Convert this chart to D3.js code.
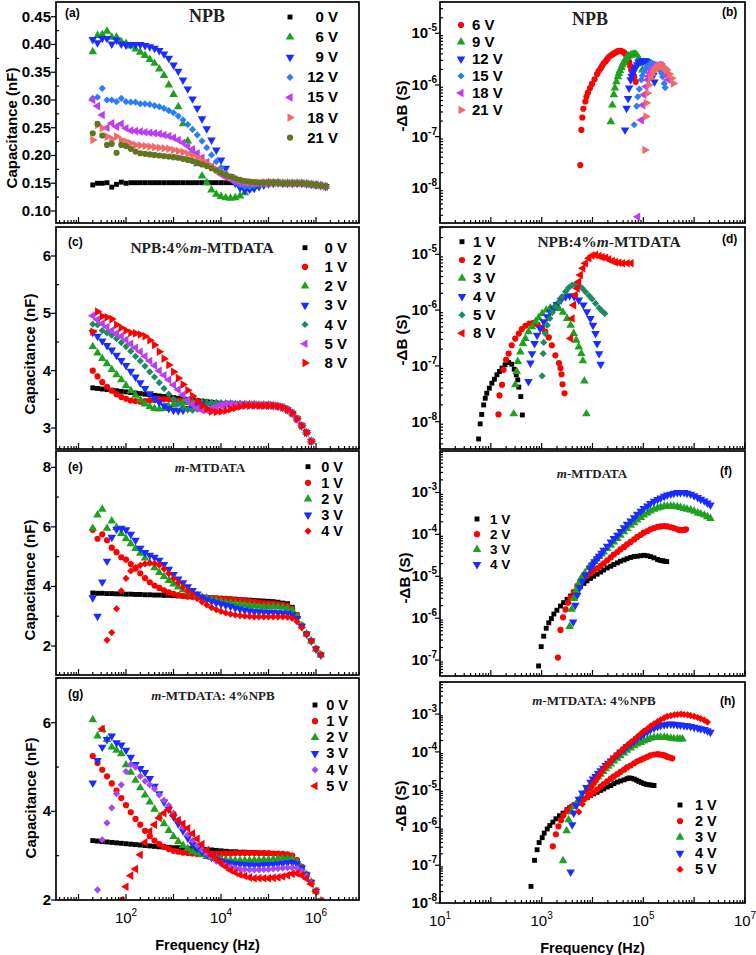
<!DOCTYPE html>
<html><head><meta charset="utf-8">
<script src="https://cdn.jsdelivr.net/npm/d3@7"></script>
<style>body{margin:0;background:#fff}</style>
</head><body>
<script>
// ---------------- DATA ----------------
// log10 of frequency (Hz) for the capacitance sweeps (left column)
const logFreqLeft = [1.3,1.4,1.5,1.6,1.7,1.8,1.9,2.0,2.1,2.2,2.3,2.4,2.5,2.6,2.7,2.8,2.9,3.0,3.1,3.2,3.3,3.4,3.5,3.6,3.7,3.8,3.9,4.0,4.1,4.2,4.3,4.4,4.5,4.6,4.7,4.8,4.9,5.0,5.1,5.2,5.3,5.4,5.5,5.6,5.7,5.8,5.9,6.0,6.1,6.2];

// (a) NPB capacitance (nF)
const a_labels = ['0 V','6 V','9 V','12 V','15 V','18 V','21 V'];
const a_0V = [0.147,0.150,0.150,0.151,0.143,0.148,0.152,0.150,0.151,0.151,0.151,0.151,0.151,0.151,0.151,0.151,0.151,0.151,0.151,0.151,0.151,0.151,0.151,0.151,0.151,0.151,0.151,0.151,0.151,0.151,0.151,0.151,0.151,0.151,0.151,0.151,0.151,0.151,0.151,0.150,0.150,0.150,0.150,0.150,0.150,0.149,0.148,0.147,0.146,0.144];
const a_6V = [0.387,0.416,0.418,0.424,0.413,0.413,0.405,0.402,0.397,0.392,0.386,0.380,0.373,0.366,0.356,0.344,0.327,0.310,0.288,0.257,0.226,0.208,0.185,0.163,0.151,0.138,0.130,0.126,0.124,0.123,0.124,0.127,0.133,0.140,0.145,0.148,0.150,0.151,0.151,0.151,0.150,0.150,0.150,0.150,0.150,0.149,0.148,0.147,0.146,0.144];
const a_9V = [0.409,0.403,0.411,0.411,0.401,0.408,0.401,0.399,0.400,0.400,0.400,0.398,0.396,0.393,0.389,0.383,0.375,0.363,0.352,0.336,0.320,0.302,0.285,0.266,0.248,0.228,0.210,0.192,0.177,0.162,0.150,0.142,0.138,0.139,0.141,0.144,0.147,0.149,0.150,0.151,0.150,0.150,0.150,0.150,0.150,0.149,0.148,0.147,0.146,0.144];
const a_12V = [0.303,0.305,0.321,0.300,0.300,0.297,0.303,0.297,0.296,0.296,0.293,0.293,0.292,0.290,0.288,0.285,0.281,0.277,0.271,0.264,0.256,0.247,0.237,0.226,0.214,0.201,0.189,0.178,0.168,0.159,0.152,0.147,0.144,0.144,0.146,0.148,0.149,0.150,0.151,0.151,0.150,0.150,0.150,0.150,0.150,0.149,0.148,0.147,0.146,0.144];
const a_15V = [0.300,0.289,0.273,0.250,0.258,0.252,0.257,0.249,0.245,0.244,0.243,0.242,0.241,0.240,0.239,0.237,0.235,0.232,0.228,0.223,0.217,0.211,0.204,0.196,0.188,0.180,0.173,0.166,0.161,0.157,0.154,0.152,0.151,0.150,0.150,0.150,0.150,0.151,0.151,0.151,0.150,0.150,0.150,0.150,0.150,0.149,0.148,0.147,0.146,0.144];
const a_18V = [0.228,0.255,0.249,0.234,0.230,0.234,0.228,0.225,0.222,0.219,0.218,0.217,0.216,0.215,0.214,0.213,0.212,0.210,0.208,0.206,0.203,0.200,0.196,0.191,0.186,0.180,0.175,0.170,0.165,0.161,0.158,0.155,0.153,0.152,0.151,0.151,0.151,0.151,0.151,0.151,0.150,0.150,0.150,0.150,0.150,0.149,0.148,0.147,0.146,0.144];
const a_21V = [0.240,0.257,0.236,0.219,0.221,0.205,0.219,0.217,0.212,0.207,0.204,0.203,0.202,0.201,0.200,0.199,0.198,0.197,0.196,0.194,0.192,0.190,0.187,0.184,0.181,0.177,0.173,0.169,0.165,0.162,0.159,0.156,0.154,0.153,0.152,0.151,0.151,0.151,0.151,0.151,0.150,0.150,0.150,0.150,0.150,0.149,0.148,0.147,0.146,0.144];

// (c) NPB:4% m-MTDATA capacitance (nF)
const c_labels = ['0 V','1 V','2 V','3 V','4 V','5 V','8 V'];
const c_0V = [3.70,3.69,3.68,3.67,3.66,3.65,3.64,3.63,3.62,3.61,3.60,3.59,3.58,3.57,3.56,3.55,3.54,3.53,3.52,3.51,3.50,3.49,3.48,3.47,3.46,3.45,3.44,3.43,3.43,3.42,3.42,3.42,3.41,3.41,3.41,3.41,3.41,3.40,3.39,3.38,3.36,3.32,3.26,3.16,3.04,2.92,2.77,2.58,2.40,2.20];
const c_1V = [4.00,3.90,3.80,3.72,3.65,3.59,3.54,3.51,3.48,3.47,3.46,3.47,3.48,3.49,3.50,3.50,3.50,3.49,3.48,3.47,3.46,3.45,3.44,3.43,3.43,3.42,3.42,3.42,3.42,3.41,3.41,3.41,3.41,3.41,3.41,3.40,3.40,3.40,3.39,3.38,3.36,3.32,3.26,3.16,3.04,2.92,2.77,2.58,2.40,2.20];
const c_2V = [4.42,4.31,4.21,4.12,4.02,3.93,3.84,3.74,3.65,3.57,3.49,3.42,3.37,3.34,3.33,3.34,3.37,3.40,3.43,3.45,3.45,3.45,3.45,3.44,3.44,3.43,3.43,3.42,3.42,3.42,3.41,3.41,3.41,3.41,3.41,3.40,3.40,3.40,3.39,3.38,3.36,3.32,3.26,3.16,3.04,2.92,2.77,2.58,2.40,2.20];
const c_3V = [4.67,4.60,4.52,4.44,4.36,4.27,4.18,4.09,3.99,3.89,3.79,3.69,3.60,3.52,3.45,3.39,3.34,3.31,3.30,3.31,3.34,3.37,3.40,3.41,3.42,3.42,3.42,3.42,3.42,3.42,3.41,3.41,3.41,3.41,3.41,3.40,3.40,3.40,3.39,3.38,3.36,3.32,3.26,3.16,3.04,2.92,2.77,2.58,2.40,2.20];
const c_4V = [4.81,4.80,4.70,4.66,4.62,4.56,4.49,4.42,4.34,4.25,4.17,4.08,3.98,3.89,3.79,3.69,3.59,3.50,3.42,3.36,3.32,3.31,3.33,3.37,3.41,3.44,3.44,3.44,3.43,3.43,3.42,3.42,3.41,3.41,3.41,3.40,3.40,3.40,3.39,3.38,3.36,3.32,3.26,3.16,3.04,2.92,2.77,2.58,2.40,2.20];
const c_5V = [4.96,4.89,4.82,4.76,4.70,4.65,4.60,4.54,4.47,4.40,4.33,4.25,4.17,4.09,4.00,3.92,3.84,3.75,3.67,3.58,3.49,3.41,3.35,3.31,3.31,3.34,3.37,3.40,3.42,3.42,3.41,3.41,3.41,3.41,3.41,3.40,3.40,3.40,3.39,3.38,3.36,3.32,3.26,3.16,3.04,2.92,2.77,2.58,2.40,2.20];
const c_8V = [4.68,5.03,4.95,4.93,4.90,4.80,4.75,4.70,4.66,4.65,4.63,4.60,4.53,4.45,4.33,4.21,4.10,3.98,3.87,3.76,3.66,3.56,3.47,3.39,3.33,3.29,3.28,3.29,3.30,3.33,3.35,3.37,3.39,3.39,3.39,3.39,3.39,3.39,3.39,3.38,3.36,3.32,3.26,3.16,3.04,2.92,2.77,2.58,2.40,2.20];

// (e) m-MTDATA capacitance (nF)
const e_labels = ['0 V','1 V','2 V','3 V','4 V'];
const e_0V = [3.78,3.77,3.77,3.76,3.76,3.75,3.75,3.74,3.74,3.73,3.73,3.72,3.72,3.71,3.71,3.70,3.70,3.69,3.68,3.68,3.67,3.66,3.65,3.64,3.63,3.62,3.61,3.60,3.59,3.58,3.57,3.56,3.55,3.54,3.53,3.52,3.51,3.50,3.49,3.47,3.44,3.42,3.30,3.05,2.70,2.42,2.18,1.92,1.72,null];
const e_1V = [5.90,5.60,5.75,5.55,5.30,5.15,4.98,4.90,4.75,4.60,4.44,4.28,4.14,4.03,3.95,3.87,3.80,3.75,3.71,3.68,3.66,3.65,3.64,3.63,3.62,3.61,3.60,3.59,3.58,3.57,3.56,3.54,3.52,3.50,3.48,3.46,3.44,3.43,3.42,3.40,3.38,3.35,3.25,3.02,2.68,2.40,2.17,1.90,1.70,null];
const e_2V = [5.95,6.40,6.59,5.95,6.20,5.98,5.78,5.60,5.43,5.27,5.11,4.95,4.79,4.63,4.47,4.33,4.20,4.08,3.98,3.89,3.81,3.74,3.69,3.64,3.60,3.56,3.52,3.49,3.46,3.44,3.42,3.40,3.38,3.36,3.34,3.33,3.32,3.32,3.32,3.31,3.30,3.27,3.20,3.00,2.68,2.40,2.17,1.90,1.70,null];
const e_3V = [3.62,3.00,4.15,4.85,5.65,5.92,5.95,5.90,5.75,5.55,5.28,5.14,5.05,4.98,4.88,4.74,4.58,4.40,4.25,4.12,3.99,3.86,3.75,3.64,3.56,3.50,3.45,3.41,3.37,3.33,3.28,3.24,3.21,3.18,3.16,3.15,3.14,3.13,3.13,3.12,3.11,3.10,3.05,2.92,2.66,2.40,2.17,1.90,1.70,null];
const e_4V = [null,null,null,2.20,2.45,3.25,3.85,4.27,4.52,4.63,4.71,4.76,4.78,4.77,4.72,4.59,4.43,4.27,4.12,3.98,3.85,3.72,3.59,3.48,3.38,3.29,3.22,3.16,3.11,3.07,3.04,3.02,3.00,2.99,2.98,2.98,2.98,2.98,2.98,2.98,2.98,2.97,2.93,2.82,2.62,2.40,2.17,1.90,1.70,null];

// (g) m-MTDATA:4% NPB capacitance (nF)
const g_labels = ['0 V','1 V','2 V','3 V','4 V','5 V'];
const g_0V = [3.34,3.33,3.32,3.31,3.30,3.29,3.28,3.27,3.26,3.25,3.24,3.23,3.22,3.21,3.20,3.19,3.19,3.18,3.18,3.17,3.16,3.16,3.15,3.15,3.14,3.13,3.12,3.11,3.10,3.09,3.09,3.08,3.08,3.07,3.07,3.06,3.06,3.05,3.05,3.04,3.03,3.01,2.97,2.88,2.74,2.58,2.40,2.20,1.98,null];
const g_1V = [5.25,5.09,4.94,4.79,4.63,4.47,4.30,4.14,3.98,3.83,3.70,3.56,3.44,3.34,3.26,3.20,3.15,3.11,3.09,3.07,3.06,3.05,3.04,3.04,3.04,3.04,3.04,3.04,3.05,3.05,3.06,3.06,3.06,3.06,3.06,3.06,3.06,3.06,3.05,3.05,3.04,3.03,3.00,2.90,2.75,2.58,2.40,2.20,1.98,null];
const g_2V = [6.07,5.70,5.85,5.62,5.45,5.38,5.30,5.05,4.88,4.70,4.53,4.37,4.21,4.05,3.88,3.72,3.57,3.43,3.32,3.23,3.16,3.10,3.06,3.02,2.98,2.96,2.94,2.92,2.91,2.90,2.89,2.89,2.89,2.89,2.90,2.90,2.91,2.91,2.92,2.93,2.94,2.94,2.93,2.86,2.73,2.57,2.40,2.20,1.98,null];
const g_3V = [4.64,5.15,5.45,5.62,5.70,5.55,5.50,5.38,5.22,5.06,4.97,4.88,4.74,4.57,4.40,4.21,4.05,3.88,3.72,3.56,3.40,3.26,3.16,3.09,3.02,2.96,2.91,2.88,2.85,2.83,2.82,2.81,2.80,2.79,2.79,2.79,2.80,2.80,2.81,2.82,2.83,2.84,2.85,2.82,2.72,2.57,2.40,2.20,1.98,null];
const g_4V = [null,2.23,3.36,3.74,4.08,4.40,4.60,4.90,5.06,5.00,4.79,4.68,4.60,4.51,4.37,4.25,4.13,3.96,3.80,3.64,3.47,3.34,3.23,3.13,3.04,2.96,2.88,2.82,2.78,2.74,2.72,2.70,2.69,2.68,2.68,2.68,2.69,2.69,2.70,2.71,2.72,2.73,2.73,2.72,2.65,2.54,2.38,2.20,1.98,null];
const g_5V = [null,null,5.86,null,null,null,2.00,2.30,2.55,2.70,3.02,3.30,3.55,3.70,3.85,3.96,4.04,3.90,3.80,3.72,3.62,3.50,3.38,3.26,3.13,3.01,2.92,2.84,2.75,2.67,2.62,2.57,2.54,2.51,2.49,2.49,2.49,2.49,2.50,2.51,2.53,2.56,2.59,2.60,2.56,2.48,2.36,2.20,1.98,null];

// Right column: pairs of [log10 f (Hz), log10 -ΔB (S)]
const b_labels = ['6 V','9 V','12 V','15 V','18 V','21 V'];
const b_6V = [[3.76,-7.55],[3.78,-6.87],[3.80,-6.63],[3.82,-6.46],[3.86,-6.32],[3.88,-6.23],[3.91,-6.15],[3.95,-6.06],[3.99,-5.98],[4.04,-5.89],[4.09,-5.79],[4.12,-5.73],[4.16,-5.68],[4.19,-5.63],[4.22,-5.58],[4.26,-5.54],[4.29,-5.50],[4.32,-5.46],[4.36,-5.43],[4.39,-5.41],[4.42,-5.39],[4.46,-5.37],[4.49,-5.35],[4.52,-5.34],[4.55,-5.34],[4.58,-5.35],[4.62,-5.37],[4.65,-5.40],[4.67,-5.44],[4.70,-5.49],[4.72,-5.55],[4.74,-5.63],[4.76,-5.71],[4.79,-5.78],[4.82,-5.84],[4.85,-5.94]];
const b_9V = [[4.36,-6.71],[4.39,-6.39],[4.42,-6.19],[4.44,-6.06],[4.47,-5.94],[4.50,-5.84],[4.52,-5.78],[4.54,-5.72],[4.57,-5.66],[4.59,-5.61],[4.61,-5.57],[4.63,-5.53],[4.66,-5.49],[4.68,-5.46],[4.71,-5.44],[4.75,-5.42],[4.78,-5.41],[4.82,-5.40],[4.85,-5.41],[4.87,-5.42],[4.91,-5.48],[4.93,-5.53],[4.95,-5.58],[4.98,-5.71]];
const b_12V = [[4.64,-6.87],[4.67,-6.45],[4.70,-6.26],[4.72,-6.06],[4.75,-5.90],[4.77,-5.83],[4.80,-5.76],[4.82,-5.70],[4.85,-5.65],[4.88,-5.61],[4.91,-5.57],[4.94,-5.55],[4.98,-5.53],[5.01,-5.53],[5.05,-5.53],[5.08,-5.55],[5.11,-5.58],[5.14,-5.63],[5.16,-5.68],[5.18,-5.74],[5.20,-5.81],[5.22,-5.94]];
const b_15V = [[4.82,-6.77],[4.87,-6.41],[4.89,-6.23],[4.92,-6.08],[4.96,-5.90],[4.98,-5.82],[5.01,-5.74],[5.04,-5.69],[5.07,-5.65],[5.10,-5.62],[5.13,-5.59],[5.17,-5.58],[5.21,-5.59],[5.25,-5.61],[5.28,-5.63],[5.31,-5.67],[5.33,-5.71],[5.36,-5.77],[5.38,-5.84],[5.41,-5.97],[5.43,-6.05]];
const b_18V = [[4.89,-8.55],[4.96,-6.68],[4.99,-6.39],[5.01,-6.19],[5.05,-6.03],[5.08,-5.90],[5.10,-5.83],[5.13,-5.77],[5.16,-5.72],[5.18,-5.68],[5.21,-5.65],[5.24,-5.63],[5.28,-5.62],[5.31,-5.61],[5.35,-5.62],[5.38,-5.65],[5.42,-5.71],[5.46,-5.81],[5.49,-5.90]];
const b_21V = [[5.03,-7.26],[5.05,-6.61],[5.06,-6.35],[5.08,-6.16],[5.11,-6.00],[5.14,-5.87],[5.17,-5.80],[5.20,-5.74],[5.23,-5.70],[5.26,-5.66],[5.30,-5.64],[5.33,-5.63],[5.36,-5.63],[5.39,-5.65],[5.43,-5.68],[5.46,-5.71],[5.51,-5.79],[5.56,-5.87],[5.59,-5.97]];

const d_labels = ['1 V','2 V','3 V','4 V','5 V','8 V'];
const d_1V = [[1.76,-8.31],[1.79,-8.04],[1.82,-7.87],[1.86,-7.70],[1.89,-7.58],[1.92,-7.49],[1.97,-7.40],[2.02,-7.31],[2.07,-7.24],[2.12,-7.16],[2.17,-7.10],[2.22,-7.04],[2.28,-6.98],[2.35,-6.94],[2.41,-6.97],[2.46,-7.06],[2.50,-7.16],[2.53,-7.25],[2.55,-7.38],[2.59,-7.55],[2.62,-7.88]];
const d_2V = [[2.15,-7.87],[2.17,-7.53],[2.22,-7.34],[2.25,-7.07],[2.30,-6.89],[2.35,-6.78],[2.41,-6.63],[2.48,-6.51],[2.55,-6.42],[2.61,-6.34],[2.68,-6.28],[2.76,-6.24],[2.84,-6.23],[2.92,-6.26],[3.01,-6.32],[3.07,-6.39],[3.14,-6.49],[3.20,-6.63],[3.27,-6.81],[3.34,-6.95],[3.37,-7.04],[3.39,-7.15],[3.41,-7.33],[3.45,-7.49]];
const d_3V = [[2.45,-7.86],[2.48,-7.34],[2.51,-7.10],[2.53,-6.92],[2.58,-6.75],[2.63,-6.60],[2.68,-6.51],[2.74,-6.39],[2.81,-6.30],[2.88,-6.21],[2.94,-6.14],[3.01,-6.06],[3.09,-6.00],[3.17,-5.96],[3.25,-5.94],[3.34,-5.97],[3.42,-6.04],[3.50,-6.15],[3.57,-6.27],[3.63,-6.42],[3.68,-6.54],[3.73,-6.66],[3.78,-6.78],[3.81,-6.91],[3.84,-7.27],[3.88,-7.86]];
const d_4V = [[2.74,-7.28],[2.78,-6.95],[2.81,-6.78],[2.86,-6.60],[2.91,-6.45],[2.97,-6.33],[3.04,-6.21],[3.11,-6.12],[3.17,-6.04],[3.24,-5.97],[3.30,-5.90],[3.38,-5.82],[3.47,-5.76],[3.55,-5.74],[3.64,-5.76],[3.73,-5.82],[3.82,-5.91],[3.89,-6.03],[3.96,-6.15],[4.01,-6.27],[4.06,-6.42],[4.09,-6.60],[4.13,-6.78],[4.16,-6.97]];
const d_5V = [[3.01,-7.18],[3.03,-6.78],[3.04,-6.58],[3.07,-6.42],[3.11,-6.27],[3.16,-6.15],[3.21,-6.04],[3.27,-5.94],[3.34,-5.85],[3.40,-5.76],[3.47,-5.67],[3.53,-5.60],[3.60,-5.55],[3.66,-5.54],[3.73,-5.56],[3.80,-5.61],[3.86,-5.67],[3.93,-5.74],[3.99,-5.80],[4.06,-5.88],[4.13,-5.96],[4.19,-6.02],[4.24,-6.06]];
const d_8V = [[3.57,-6.51],[3.60,-6.15],[3.63,-5.91],[3.66,-5.73],[3.70,-5.61],[3.73,-5.49],[3.76,-5.37],[3.81,-5.25],[3.86,-5.16],[3.93,-5.07],[3.99,-5.02],[4.06,-5.01],[4.13,-5.03],[4.19,-5.05],[4.26,-5.06],[4.32,-5.09],[4.39,-5.12],[4.45,-5.14],[4.52,-5.15],[4.59,-5.16],[4.68,-5.16],[4.76,-5.16]];

const f_labels = ['1 V','2 V','3 V','4 V'];
const f_1V = [[2.94,-7.14],[2.99,-6.68],[3.04,-6.43],[3.09,-6.24],[3.14,-6.11],[3.19,-6.01],[3.24,-5.90],[3.30,-5.81],[3.37,-5.71],[3.43,-5.63],[3.50,-5.55],[3.57,-5.47],[3.63,-5.41],[3.70,-5.33],[3.76,-5.25],[3.83,-5.17],[3.89,-5.11],[3.96,-5.05],[4.02,-5.00],[4.09,-4.95],[4.16,-4.90],[4.22,-4.85],[4.29,-4.80],[4.36,-4.76],[4.42,-4.72],[4.49,-4.68],[4.55,-4.64],[4.62,-4.61],[4.68,-4.58],[4.75,-4.55],[4.82,-4.53],[4.88,-4.52],[4.95,-4.51],[5.01,-4.50],[5.08,-4.51],[5.14,-4.53],[5.21,-4.56],[5.28,-4.60],[5.33,-4.62],[5.38,-4.63],[5.42,-4.64],[5.46,-4.65]];
const f_2V = [[3.32,-6.94],[3.37,-6.28],[3.42,-5.98],[3.47,-5.79],[3.52,-5.63],[3.57,-5.51],[3.63,-5.37],[3.70,-5.23],[3.76,-5.13],[3.83,-5.05],[3.89,-4.99],[3.96,-4.93],[4.02,-4.87],[4.09,-4.81],[4.16,-4.75],[4.22,-4.69],[4.29,-4.62],[4.36,-4.55],[4.42,-4.48],[4.49,-4.42],[4.55,-4.36],[4.62,-4.30],[4.68,-4.24],[4.75,-4.18],[4.82,-4.12],[4.88,-4.06],[4.95,-4.01],[5.01,-3.96],[5.08,-3.92],[5.14,-3.88],[5.21,-3.85],[5.28,-3.82],[5.34,-3.81],[5.41,-3.80],[5.47,-3.81],[5.54,-3.83],[5.60,-3.85],[5.67,-3.88],[5.72,-3.90],[5.77,-3.90],[5.81,-3.89],[5.84,-3.88]];
const f_3V = [[3.55,-6.20],[3.59,-5.79],[3.63,-5.53],[3.68,-5.33],[3.73,-5.17],[3.78,-5.04],[3.85,-4.92],[3.93,-4.79],[3.98,-4.72],[4.03,-4.65],[4.08,-4.59],[4.13,-4.53],[4.18,-4.47],[4.22,-4.42],[4.29,-4.34],[4.36,-4.26],[4.42,-4.18],[4.49,-4.10],[4.55,-4.02],[4.62,-3.94],[4.68,-3.86],[4.75,-3.78],[4.82,-3.72],[4.88,-3.66],[4.95,-3.60],[5.01,-3.54],[5.08,-3.49],[5.14,-3.44],[5.21,-3.40],[5.28,-3.37],[5.34,-3.35],[5.41,-3.33],[5.47,-3.33],[5.54,-3.33],[5.60,-3.33],[5.67,-3.34],[5.73,-3.36],[5.80,-3.38],[5.86,-3.40],[5.93,-3.42],[6.00,-3.45],[6.07,-3.49],[6.13,-3.51],[6.20,-3.54],[6.26,-3.58],[6.32,-3.62]];
const f_4V = [[3.62,-6.09],[3.66,-5.69],[3.70,-5.45],[3.75,-5.27],[3.80,-5.12],[3.86,-4.97],[3.95,-4.81],[4.00,-4.73],[4.04,-4.65],[4.09,-4.58],[4.13,-4.52],[4.18,-4.45],[4.22,-4.38],[4.29,-4.28],[4.36,-4.18],[4.42,-4.10],[4.49,-4.02],[4.55,-3.93],[4.62,-3.84],[4.68,-3.76],[4.75,-3.68],[4.82,-3.60],[4.88,-3.52],[4.95,-3.45],[5.01,-3.38],[5.08,-3.32],[5.14,-3.26],[5.21,-3.21],[5.28,-3.17],[5.34,-3.13],[5.41,-3.09],[5.47,-3.06],[5.54,-3.04],[5.60,-3.02],[5.67,-3.00],[5.73,-3.00],[5.80,-3.00],[5.86,-3.02],[5.93,-3.04],[6.00,-3.08],[6.07,-3.12],[6.13,-3.16],[6.20,-3.20],[6.26,-3.25],[6.32,-3.30]];

const h_labels = ['1 V','2 V','3 V','4 V','5 V'];
const h_1V = [[2.79,-7.56],[2.86,-6.87],[2.91,-6.59],[2.95,-6.40],[3.01,-6.27],[3.05,-6.15],[3.11,-6.04],[3.16,-5.95],[3.22,-5.86],[3.28,-5.77],[3.35,-5.69],[3.42,-5.62],[3.50,-5.53],[3.55,-5.48],[3.60,-5.44],[3.65,-5.40],[3.70,-5.36],[3.77,-5.30],[3.83,-5.25],[3.90,-5.20],[3.96,-5.15],[4.02,-5.11],[4.09,-5.07],[4.16,-5.02],[4.22,-4.98],[4.29,-4.93],[4.36,-4.89],[4.42,-4.84],[4.49,-4.80],[4.55,-4.77],[4.62,-4.74],[4.68,-4.71],[4.72,-4.69],[4.77,-4.70],[4.82,-4.72],[4.87,-4.75],[4.91,-4.78],[4.96,-4.81],[5.01,-4.84],[5.06,-4.86],[5.11,-4.87],[5.16,-4.88],[5.21,-4.89]];
const h_2V = [[3.22,-6.50],[3.28,-6.18],[3.33,-5.97],[3.38,-5.81],[3.43,-5.68],[3.50,-5.56],[3.57,-5.47],[3.64,-5.40],[3.73,-5.33],[3.83,-5.25],[3.90,-5.20],[3.96,-5.14],[4.02,-5.07],[4.09,-5.00],[4.16,-4.92],[4.22,-4.85],[4.29,-4.78],[4.36,-4.71],[4.42,-4.65],[4.49,-4.59],[4.55,-4.53],[4.62,-4.47],[4.68,-4.41],[4.75,-4.36],[4.82,-4.30],[4.88,-4.25],[4.95,-4.21],[5.01,-4.17],[5.08,-4.13],[5.14,-4.09],[5.21,-4.07],[5.28,-4.06],[5.33,-4.07],[5.38,-4.08],[5.43,-4.10],[5.47,-4.13],[5.52,-4.15],[5.57,-4.17]];
const h_3V = [[3.42,-6.88],[3.49,-6.09],[3.53,-5.80],[3.59,-5.59],[3.64,-5.44],[3.71,-5.31],[3.78,-5.18],[3.86,-5.05],[3.91,-4.97],[3.96,-4.89],[4.01,-4.81],[4.06,-4.74],[4.11,-4.66],[4.16,-4.59],[4.21,-4.52],[4.26,-4.45],[4.31,-4.38],[4.36,-4.32],[4.42,-4.24],[4.49,-4.17],[4.55,-4.10],[4.62,-4.03],[4.68,-3.96],[4.75,-3.90],[4.82,-3.84],[4.88,-3.79],[4.95,-3.75],[5.01,-3.71],[5.08,-3.67],[5.14,-3.64],[5.21,-3.62],[5.28,-3.61],[5.34,-3.61],[5.41,-3.61],[5.47,-3.62],[5.54,-3.64],[5.60,-3.65],[5.67,-3.65],[5.72,-3.66],[5.77,-3.66]];
const h_4V = [[3.57,-7.18],[3.60,-5.93],[3.63,-5.62],[3.68,-5.42],[3.73,-5.25],[3.80,-5.09],[3.88,-4.94],[3.96,-4.80],[4.01,-4.72],[4.06,-4.65],[4.11,-4.57],[4.16,-4.50],[4.21,-4.43],[4.26,-4.36],[4.31,-4.30],[4.36,-4.24],[4.42,-4.16],[4.49,-4.08],[4.55,-4.00],[4.62,-3.93],[4.68,-3.86],[4.75,-3.79],[4.82,-3.72],[4.88,-3.65],[4.95,-3.59],[5.01,-3.53],[5.08,-3.47],[5.14,-3.41],[5.21,-3.37],[5.28,-3.33],[5.34,-3.30],[5.41,-3.28],[5.47,-3.27],[5.54,-3.26],[5.60,-3.27],[5.67,-3.28],[5.73,-3.29],[5.80,-3.30],[5.86,-3.31],[5.93,-3.33],[6.00,-3.35],[6.07,-3.37],[6.13,-3.39],[6.20,-3.41],[6.26,-3.44],[6.32,-3.48]];
const h_5V = [[3.73,-5.59],[3.80,-5.38],[3.85,-5.24],[3.91,-5.09],[3.96,-4.96],[4.00,-4.88],[4.04,-4.80],[4.09,-4.71],[4.13,-4.62],[4.18,-4.53],[4.22,-4.45],[4.27,-4.37],[4.32,-4.30],[4.37,-4.22],[4.42,-4.15],[4.48,-4.07],[4.55,-3.99],[4.61,-3.91],[4.68,-3.83],[4.75,-3.75],[4.82,-3.68],[4.88,-3.60],[4.95,-3.52],[5.01,-3.45],[5.08,-3.39],[5.14,-3.32],[5.21,-3.26],[5.28,-3.20],[5.34,-3.15],[5.41,-3.10],[5.47,-3.06],[5.54,-3.04],[5.61,-3.02],[5.67,-3.01],[5.74,-3.00],[5.80,-3.01],[5.87,-3.02],[5.93,-3.04],[6.00,-3.06],[6.07,-3.09],[6.13,-3.12],[6.20,-3.16],[6.26,-3.21]];

// tick values
const a_yTicks = [0.10,0.15,0.20,0.25,0.30,0.35,0.40,0.45];
const c_yTicks = [3,4,5,6];
const e_yTicks = [2,4,6,8];
const g_yTicks = [2,4,6];
const leftXLabels = [2,4,6];
const rightXLabels = [1,3,5,7];

// ---------------- STYLE / LAYOUT ----------------
const SANS = '"Liberation Sans", Arial, Helvetica, sans-serif';
const SERIF = '"Liberation Serif", "Times New Roman", serif';
const COL = {k:'#000000', r:'#ff0000', g:'#1ea11e', b:'#1a2cff', lb:'#2a7ff0', p:'#c03cf2', s:'#f06a6a', o:'#627520', t:'#1f8a60', pd:'#a448f4'};
const SH = {
  sq:{t:d3.symbolSquare, s:24, r:0}, ci:{t:d3.symbolCircle, s:30, r:0},
  up:{t:d3.symbolTriangle, s:32, r:0}, dn:{t:d3.symbolTriangle, s:32, r:180},
  lt:{t:d3.symbolTriangle, s:32, r:-90}, rt:{t:d3.symbolTriangle, s:32, r:90},
  di:{t:d3.symbolSquare, s:26, r:45}
};

const svg = d3.select('body').append('svg').attr('width',756).attr('height',955);

function drawPanel(p){
  const g = svg.append('g');
  const [x0,x1] = p.col==='L' ? [56,359] : [440,745];
  const y0 = p.y0, y1 = p.y1;
  const x = p.col==='L' ? d3.scaleLog().domain([10**0.526,10**6.905]).range([x0,x1])
                        : d3.scaleLog().domain([10,1e7]).range([x0,x1]);
  const y = p.log ? d3.scaleLog().domain([10**p.yDom[0],10**p.yDom[1]]).range([y1,y0])
                  : d3.scaleLinear().domain(p.yDom).range([y1,y0]);
  const cid = 'clip_'+p.key;
  svg.append('clipPath').attr('id',cid).append('rect').attr('x',x0).attr('y',y0).attr('width',x1-x0).attr('height',y1-y0);
  const plot = g.append('g').attr('clip-path',`url(#${cid})`);

  p.series.forEach(s=>{
    const sh = SH[s.sh];
    const d = d3.symbol(sh.t, sh.s)();
    let pts;
    if (s.pairs) pts = s.pairs.map(q=>[10**q[0], 10**q[1]]);
    else pts = logFreqLeft.map((lf,i)=>[10**lf, s.values[i]]).filter(q=>q[1]!=null);
    plot.selectAll(null).data(pts).enter().append('path')
      .attr('d',d).attr('fill',s.c)
      .attr('transform',q=>`translate(${x(q[0])},${y(q[1])}) rotate(${sh.r})`);
  });

  // frame
  g.append('rect').attr('x',x0).attr('y',y0).attr('width',x1-x0).attr('height',y1-y0)
    .attr('fill','none').attr('stroke','#000').attr('stroke-width',1.7);

  const tk = g.append('g').attr('stroke','#000').attr('stroke-width',1.2);
  // x ticks (log)
  const [xd0,xd1] = x.domain();
  for (let e=0;e<=7;e++){
    for (let k=1;k<=9;k++){
      const v = k*10**e;
      if (v<xd0 || v>xd1) continue;
      const len = k===1?6:3;
      tk.append('line').attr('x1',x(v)).attr('x2',x(v)).attr('y1',y1).attr('y2',y1-len);
    }
  }
  // y ticks
  if (p.log){
    for (let e=-9;e<=-1;e++){
      for (let k=1;k<=9;k++){
        const v = k*10**e;
        const [a,b] = y.domain();
        if (v<a || v>b) continue;
        if (k===1) tk.append('line').attr('x1',x0-5).attr('x2',x0).attr('y1',y(v)).attr('y2',y(v));
        else tk.append('line').attr('x1',x0).attr('x2',x0+3).attr('y1',y(v)).attr('y2',y(v));
      }
    }
    p.yLabels.forEach(e=>{
      const t = g.append('text').attr('x',x0-3).attr('y',y(10**e)+5).attr('text-anchor','end')
        .attr('font-family',SANS).attr('font-weight','bold').attr('font-size',15);
      t.append('tspan').text('10');
      t.append('tspan').attr('dy',-7).attr('font-size',10).text(String(e));
    });
  } else {
    p.yTicks.forEach(v=>{
      tk.append('line').attr('x1',x0-5).attr('x2',x0).attr('y1',y(v)).attr('y2',y(v));
      g.append('text').attr('x',x0-5).attr('y',y(v)+5).attr('text-anchor','end')
        .attr('font-family',SANS).attr('font-weight','bold').attr('font-size',15).text(p.fmt(v));
    });
    p.yMinor.forEach(v=>{
      tk.append('line').attr('x1',x0).attr('x2',x0+3).attr('y1',y(v)).attr('y2',y(v));
    });
  }
  // x labels
  if (p.xLabels){
    p.xLabels.forEach(e=>{
      const t = g.append('text').attr('x',x(10**e)).attr('y',y1+23).attr('text-anchor','middle')
        .attr('font-family',SANS).attr('font-size',15);
      t.append('tspan').text('10');
      t.append('tspan').attr('dy',-7).attr('font-size',10).text(String(e));
    });
    g.append('text').attr('x',(x0+x1)/2).attr('y',y1+50).attr('text-anchor','middle')
      .attr('font-family',SANS).attr('font-weight','bold').attr('font-size',14.5).text('Frequency (Hz)');
  }
  // y label
  g.append('text').attr('transform',`translate(${p.ylab[0]},${p.ylab[1]}) rotate(-90)`)
    .attr('text-anchor','middle').attr('dominant-baseline','central')
    .attr('font-family',SANS).attr('font-weight','bold').attr('font-size',15)
    .text(p.log ? '-ΔB (S)' : 'Capacitance (nF)');
  // title
  const tt = g.append('text').attr('x',p.title.x).attr('y',p.title.y).attr('text-anchor','middle')
    .attr('font-family',SERIF).attr('font-weight','bold').attr('font-size',p.title.size).attr('fill','#222');
  p.title.parts.forEach(q=>tt.append('tspan').attr('font-style',q.i?'italic':'normal').text(q.t));
  // panel letter
  g.append('text').attr('x',p.letter[1]).attr('y',p.letter[2]).attr('font-family',SANS)
    .attr('font-weight','bold').attr('font-size',12).text(p.letter[0]);
  // legend
  const L = p.legend;
  const fs = L.fs || 15;
  p.series.forEach((s,i)=>{
    const sh = SH[s.sh];
    const yy = L.y + i*L.dy;
    g.append('path').attr('d',d3.symbol(sh.t, sh.s)()).attr('fill',s.c)
      .attr('transform',`translate(${L.sx},${yy}) rotate(${sh.r})`);
    g.append('text').attr('x',L.tx).attr('y',yy+fs/3).attr('text-anchor',L.anchor)
      .attr('font-family',SANS).attr('font-weight','bold').attr('font-size',fs).text(p.labels[i]);
  });
}

const panels = [
 {key:'a', col:'L', y0:2, y1:223, yDom:[0.0784,0.4765], yTicks:a_yTicks, yMinor:[0.125,0.175,0.225,0.275,0.325,0.375,0.425], fmt:v=>v.toFixed(2),
  labels:a_labels,
  series:[{values:a_0V,sh:'sq',c:COL.k},{values:a_6V,sh:'up',c:COL.g},{values:a_9V,sh:'dn',c:COL.b},{values:a_12V,sh:'di',c:COL.lb},{values:a_15V,sh:'lt',c:COL.p},{values:a_18V,sh:'rt',c:COL.s},{values:a_21V,sh:'ci',c:COL.o}],
  legend:{sx:290, tx:338, anchor:'end', y:17, dy:20.1},
  title:{parts:[{t:'NPB'}], x:207, y:22, size:18}, letter:['(a)',65,17], ylab:[11,128]},
 {key:'b', col:'R', y0:2, y1:223, log:true, yDom:[-8.672,-4.394], yLabels:[-5,-6,-7,-8], labels:b_labels,
  series:[{pairs:b_6V,sh:'ci',c:COL.r},{pairs:b_9V,sh:'up',c:COL.g},{pairs:b_12V,sh:'dn',c:COL.b},{pairs:b_15V,sh:'di',c:COL.lb},{pairs:b_18V,sh:'lt',c:COL.p},{pairs:b_21V,sh:'rt',c:COL.s}],
  legend:{sx:461, tx:472, anchor:'start', y:25, dy:17},
  title:{parts:[{t:'NPB'}], x:590, y:25, size:18}, letter:['(b)',722,16], ylab:[401,106]},
 {key:'c', col:'L', y0:227, y1:449, yDom:[2.634,6.506], yTicks:c_yTicks, yMinor:[3.5,4.5,5.5], fmt:v=>String(v), labels:c_labels,
  series:[{values:c_0V,sh:'sq',c:COL.k},{values:c_1V,sh:'ci',c:COL.r},{values:c_2V,sh:'up',c:COL.g},{values:c_3V,sh:'dn',c:COL.b},{values:c_4V,sh:'di',c:COL.t},{values:c_5V,sh:'lt',c:COL.p},{values:c_8V,sh:'rt',c:COL.r}],
  legend:{sx:305, tx:347, anchor:'end', y:247.7, dy:19.2},
  title:{parts:[{t:'NPB:4%'},{t:'m',i:true},{t:'-MTDATA'}], x:202, y:253, size:15.5}, letter:['(c)',68,246], ylab:[29,354]},
 {key:'d', col:'R', y0:227, y1:449, log:true, yDom:[-8.49,-4.51], yLabels:[-5,-6,-7,-8], labels:d_labels,
  series:[{pairs:d_1V,sh:'sq',c:COL.k},{pairs:d_2V,sh:'ci',c:COL.r},{pairs:d_3V,sh:'up',c:COL.g},{pairs:d_4V,sh:'dn',c:COL.b},{pairs:d_5V,sh:'di',c:COL.t},{pairs:d_8V,sh:'lt',c:COL.r}],
  legend:{sx:462, tx:473, anchor:'start', y:241.7, dy:18.3},
  title:{parts:[{t:'NPB:4%'},{t:'m',i:true},{t:'-MTDATA'}], x:609, y:247, size:15.5}, letter:['(d)',722,243], ylab:[401,340]},
 {key:'e', col:'L', y0:451, y1:675, yDom:[1.026,8.547], yTicks:e_yTicks, yMinor:[3,5,7], fmt:v=>String(v), labels:e_labels,
  series:[{values:e_0V,sh:'sq',c:COL.k},{values:e_1V,sh:'ci',c:COL.r},{values:e_2V,sh:'up',c:COL.g},{values:e_3V,sh:'dn',c:COL.b},{values:e_4V,sh:'di',c:COL.r}],
  legend:{sx:308, tx:343, anchor:'end', y:466.7, dy:16.1, fs:14.5},
  title:{parts:[{t:'m',i:true},{t:'-MTDATA'}], x:210, y:472, size:13}, letter:['(e)',68,471], ylab:[29,580]},
 {key:'f', col:'R', y0:451, y1:676, log:true, yDom:[-7.38,-2.01], yLabels:[-3,-4,-5,-6,-7], labels:f_labels,
  series:[{pairs:f_1V,sh:'sq',c:COL.k},{pairs:f_2V,sh:'ci',c:COL.r},{pairs:f_3V,sh:'up',c:COL.g},{pairs:f_4V,sh:'dn',c:COL.b}],
  legend:{sx:477, tx:490, anchor:'start', y:519, dy:15.2, fs:13.5},
  title:{parts:[{t:'m',i:true},{t:'-MTDATA'}], x:592, y:478, size:13}, letter:['(f)',720,475], ylab:[404,578]},
 {key:'g', col:'L', y0:678, y1:900, yDom:[2,7.01], yTicks:g_yTicks, yMinor:[3,5,7], fmt:v=>String(v), labels:g_labels, xLabels:leftXLabels,
  series:[{values:g_0V,sh:'sq',c:COL.k},{values:g_1V,sh:'ci',c:COL.r},{values:g_2V,sh:'up',c:COL.g},{values:g_3V,sh:'dn',c:COL.b},{values:g_4V,sh:'di',c:COL.pd},{values:g_5V,sh:'lt',c:COL.r}],
  legend:{sx:315, tx:348, anchor:'end', y:705, dy:16.2, fs:14.5},
  title:{parts:[{t:'m',i:true},{t:'-MTDATA: 4%NPB'}], x:213, y:700, size:13}, letter:['(g)',68,698], ylab:[30,798]},
 {key:'h', col:'R', y0:682, y1:903, log:true, yDom:[-8,-2.15], yLabels:[-3,-4,-5,-6,-7,-8], labels:h_labels, xLabels:rightXLabels,
  series:[{pairs:h_1V,sh:'sq',c:COL.k},{pairs:h_2V,sh:'ci',c:COL.r},{pairs:h_3V,sh:'up',c:COL.g},{pairs:h_4V,sh:'dn',c:COL.b},{pairs:h_5V,sh:'di',c:COL.r}],
  legend:{sx:680, tx:695, anchor:'start', y:805, dy:16.1, fs:14.5},
  title:{parts:[{t:'m',i:true},{t:'-MTDATA: 4%NPB'}], x:594, y:705, size:13}, letter:['(h)',720,705], ylab:[400,806]}
];
panels.forEach(drawPanel);
</script>
</body></html>
